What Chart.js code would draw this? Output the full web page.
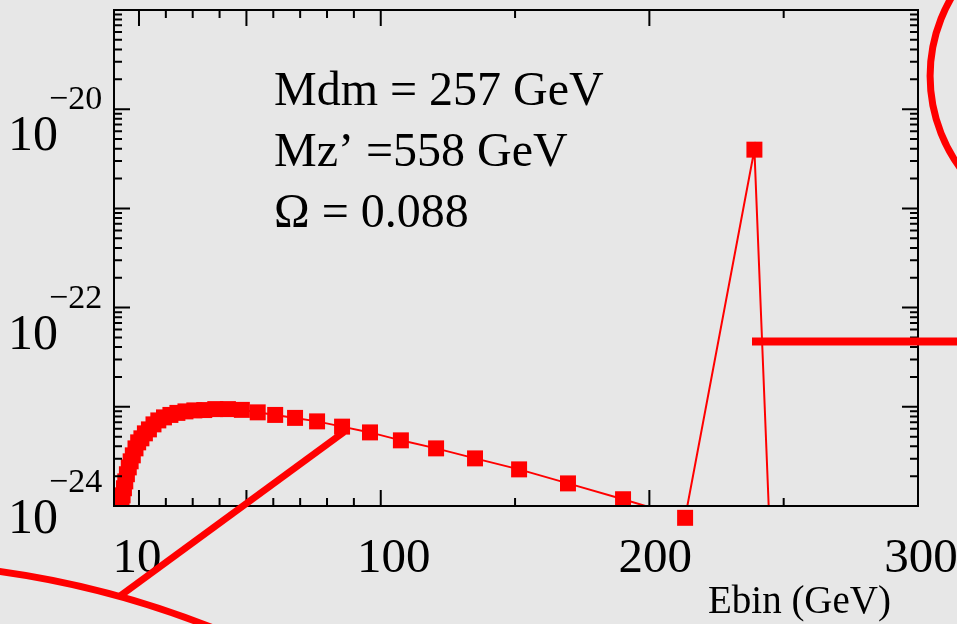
<!DOCTYPE html>
<html><head><meta charset="utf-8">
<script src="https://cdn.jsdelivr.net/npm/chart.js@4.4.1/dist/chart.umd.min.js"></script>
<style>html,body{margin:0;padding:0;background:#e7e7e7;overflow:hidden}canvas{display:block}</style>
</head><body>
<canvas id="c" width="957" height="624"></canvas>
<script>
// ---- data ----
const energies = [3.5, 3.9, 4.4, 4.9, 5.5, 6.2, 6.9, 7.7, 8.7, 9.7, 10.9, 12.2, 13.7, 15.4, 17.2, 19.3, 21.7, 24.3, 27.3, 30.6, 34.3, 38.4, 43.1, 48.3, 54.2, 60.7, 68.1, 76.3, 85.6, 96.0, 107.5, 120.6, 135.1, 151.5, 169.7, 190.2, 213.3, 239.1, 268.1];
const fluxes = [1.09e-24, 1.28e-24, 1.51e-24, 1.77e-24, 2.09e-24, 2.45e-24, 2.82e-24, 3.24e-24, 3.81e-24, 4.38e-24, 4.81e-24, 5.4e-24, 5.92e-24, 6.65e-24, 7.29e-24, 7.82e-24, 8.28e-24, 8.68e-24, 8.99e-24, 9.2e-24, 9.27e-24, 9.48e-24, 9.48e-24, 9.31e-24, 8.79e-24, 8.28e-24, 7.73e-24, 7.13e-24, 6.31e-24, 5.52e-24, 4.59e-24, 3.81e-24, 3.02e-24, 2.34e-24, 1.69e-24, 1.17e-24, 7.6e-25, 3.91e-21, 1e-40];
const xTickMajor = [10, 50, 100, 200, 300];
const xTickMinor = [20, 30, 40, 60, 70, 80, 90, 150, 250];
const xLabelValues = [10, 100, 200, 300];
const xLabelTexts = ['10', '100', '200', '300'];
const yDecades = [-24, -23, -22, -21, -20, -19];
const yMinorMult = [2, 3, 4, 5, 6, 7, 8, 9];
const yLabelExps = [-20, -22, -24];
const infoLines = ['Mdm = 257 GeV', 'Mz\u2019 =558 GeV', '\u03A9 = 0.088'];
const xTitle = 'Ebin (GeV)';
const xRange = [0.7, 300];
const yRange = [1e-24, 1e-19];

const points = energies.map((e, i) => ({x: e, y: fluxes[i]}));
const peakIdx = fluxes.indexOf(Math.max(...fluxes));
const dipPoint = points[peakIdx - 1];

const RED = '#ff0000';
const SERIF = '"Liberation Serif", "Times New Roman", serif';

const bgPlugin = {
  id: 'bg',
  beforeDraw(chart) {
    const {ctx, width, height} = chart;
    ctx.save();
    ctx.fillStyle = '#e7e7e7';
    ctx.fillRect(0, 0, width, height);
    ctx.restore();
  }
};

const framePlugin = {
  id: 'frame',
  afterDatasetsDraw(chart) {
    const {ctx, chartArea: a, scales: {x, y}} = chart;
    ctx.save();
    ctx.strokeStyle = '#000';
    ctx.lineWidth = 2;
    ctx.strokeRect(a.left, a.top, a.right - a.left, a.bottom - a.top);
    ctx.beginPath();
    const xt = (v, len) => {
      const p = x.getPixelForValue(v);
      ctx.moveTo(p, a.bottom); ctx.lineTo(p, a.bottom - len);
      ctx.moveTo(p, a.top); ctx.lineTo(p, a.top + len);
    };
    xTickMajor.forEach(v => xt(v, 16));
    xTickMinor.forEach(v => xt(v, 8));
    const yt = (v, len) => {
      const p = y.getPixelForValue(v);
      ctx.moveTo(a.left, p); ctx.lineTo(a.left + len, p);
      ctx.moveTo(a.right, p); ctx.lineTo(a.right - len, p);
    };
    yDecades.forEach(d => {
      yt(Math.pow(10, d), 16);
      if (d < yDecades[yDecades.length - 1]) yMinorMult.forEach(m => yt(m * Math.pow(10, d), 8));
    });
    ctx.stroke();
    ctx.restore();
  }
};

const textPlugin = {
  id: 'texts',
  afterDraw(chart) {
    const {ctx, chartArea: a, scales: {x, y}} = chart;
    ctx.save();
    ctx.fillStyle = '#000';
    ctx.textBaseline = 'alphabetic';
    // x tick labels
    ctx.font = '49px ' + SERIF;
    ctx.textAlign = 'center';
    const xAdj = [-2, 13, 6, 3];
    xLabelValues.forEach((v, i) => {
      ctx.fillText(xLabelTexts[i], x.getPixelForValue(v) + xAdj[i], 572);
    });
    // y tick labels (10^exp)
    ctx.textAlign = 'left';
    yLabelExps.forEach((e, i) => {
      const p = y.getPixelForValue(Math.pow(10, e));
      const last = i === yLabelExps.length - 1;
      const baseOff = last ? 27 : 41;
      const supOff = last ? -14 : 0;
      ctx.font = '50px ' + SERIF;
      ctx.fillText('10', 8, p + baseOff);
      ctx.font = '34px ' + SERIF;
      ctx.fillText('\u2212' + String(Math.abs(e)), 49, p + supOff);
    });
    // axis title
    ctx.font = '39px ' + SERIF;
    ctx.textAlign = 'right';
    ctx.fillText(xTitle, 891, 613);
    // info text
    ctx.font = '48px ' + SERIF;
    ctx.textAlign = 'left';
    infoLines.forEach((t, i) => ctx.fillText(t, 274, 105 + i * 61));
    ctx.restore();

    // red annotation overlays
    ctx.save();
    ctx.strokeStyle = RED;
    ctx.lineCap = 'butt';
    ctx.lineWidth = 7;
    ctx.beginPath();
    ctx.arc(-127.6, 1484.7, 922, 0, Math.PI * 2);
    ctx.stroke();
    ctx.beginPath();
    ctx.moveTo(120, 596);
    ctx.lineTo(344, 432);
    ctx.stroke();
    ctx.beginPath();
    ctx.arc(1085.5, 76.1, 155.4, 0, Math.PI * 2);
    ctx.stroke();
    ctx.lineWidth = 8;
    ctx.beginPath();
    ctx.moveTo(752, 341.5);
    ctx.lineTo(957, 341.5);
    ctx.stroke();
    ctx.restore();
  }
};

new Chart(document.getElementById('c'), {
  type: 'scatter',
  data: {
    datasets: [
      {
        data: points,
        showLine: true,
        borderColor: RED,
        borderWidth: 2,
        tension: 0,
        pointStyle: 'rect',
        pointRadius: 11.3,
        pointHoverRadius: 11.3,
        pointBackgroundColor: RED,
        pointBorderWidth: 0,
        clip: 0
      },
      {
        data: [dipPoint],
        showLine: false,
        pointStyle: 'rect',
        pointRadius: 11.3,
        pointHoverRadius: 30,
        pointBackgroundColor: RED,
        pointBorderWidth: 0,
        clip: false
      }
    ]
  },
  options: {
    responsive: false,
    animation: false,
    events: [],
    layout: {autoPadding: false, padding: {left: 114, top: 10, right: 39, bottom: 118}},
    plugins: {legend: {display: false}, tooltip: {enabled: false}},
    scales: {
      x: {type: 'linear', min: xRange[0], max: xRange[1], display: false},
      y: {type: 'logarithmic', min: yRange[0], max: yRange[1], display: false}
    }
  },
  plugins: [bgPlugin, framePlugin, textPlugin]
});
</script>
</body></html>
